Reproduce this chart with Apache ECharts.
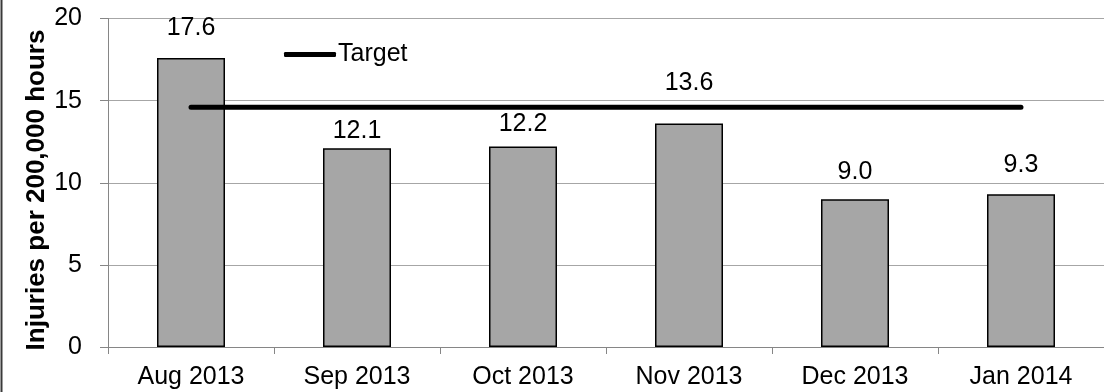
<!DOCTYPE html>
<html>
<head>
<meta charset="utf-8">
<script src="https://cdn.jsdelivr.net/npm/echarts@6/dist/echarts.min.js"></script>
<style>
  html, body { margin: 0; padding: 0; background: #fff; }
  #chart { width: 1104px; height: 392px; }
</style>
</head>
<body>
<div id="chart"></div>
<script>
// Monthly injury rate, with the target rate drawn as a line
const months = ['Aug 2013', 'Sep 2013', 'Oct 2013', 'Nov 2013', 'Dec 2013', 'Jan 2014'];
const injuryRate = [17.6, 12.1, 12.2, 13.6, 9.0, 9.3];
const targetRate = [14.6, 14.6, 14.6, 14.6, 14.6, 14.6];
// extra upward shift of each value label, in px
const labelLift = [12, 0, 5, 23, 10, 12];
const yTicks = { min: 0, max: 20, step: 5 };

const FONT = '"Liberation Sans", Arial, sans-serif';
const chart = echarts.init(document.getElementById('chart'), null, { renderer: 'canvas' });

chart.setOption({
  animation: false,
  backgroundColor: '#fff',
  textStyle: { fontFamily: FONT },
  grid: { left: 108, top: 18.5, width: 1008, height: 328.5, containLabel: false },
  legend: {
    data: [{ name: 'Target', icon: 'roundRect' }],
    left: 279, top: 37,
    itemWidth: 52, itemHeight: 5,
    itemStyle: { color: '#000', borderWidth: 0 },
    lineStyle: { width: 0 },
    textStyle: { fontSize: 25, color: '#000', fontFamily: FONT, padding: [0, 0, 0, -3] }
  },
  xAxis: {
    type: 'category',
    data: months,
    boundaryGap: true,
    axisLine: { lineStyle: { color: '#868686', width: 1 } },
    axisTick: { show: true, length: 7, lineStyle: { color: '#868686' } },
    axisLabel: { fontSize: 25, color: '#000', margin: 18, fontFamily: FONT },
    splitLine: { show: false }
  },
  yAxis: {
    type: 'value',
    min: yTicks.min, max: yTicks.max, interval: yTicks.step,
    axisLine: { show: true, lineStyle: { color: '#868686', width: 1 } },
    axisTick: { show: true, length: 8, lineStyle: { color: '#868686' } },
    axisLabel: { fontSize: 25, color: '#000', margin: 26, fontFamily: FONT },
    splitLine: { show: true, lineStyle: { color: '#a6a6a6', width: 1 } }
  },
  series: [
    {
      name: 'Injuries',
      type: 'bar',
      data: injuryRate.map((v, i) => ({
        value: v,
        label: { offset: [0, -labelLift[i]] }
      })),
      barWidth: 68,
      itemStyle: { color: '#a6a6a6', borderColor: '#000', borderWidth: 1.5 },
      label: {
        show: true, position: 'top', distance: 5,
        fontSize: 25, color: '#000', fontFamily: FONT,
        formatter: p => p.value.toFixed(1)
      },
      z: 2
    },
    {
      name: 'Target',
      type: 'line',
      data: targetRate,
      symbol: 'none',
      lineStyle: { color: '#000', width: 5, cap: 'round' },
      itemStyle: { color: '#000' },
      z: 3
    }
  ],
  graphic: [
    // outer frame edge on the left
    { type: 'line', shape: { x1: 1.5, y1: 0, x2: 1.5, y2: 392 }, style: { stroke: '#3a3a3a', lineWidth: 2 } },
    // y axis title
    {
      type: 'text', x: 37, y: 190, rotation: Math.PI / 2,
      style: {
        text: 'Injuries per 200,000 hours',
        font: 'bold 26px ' + FONT, fill: '#000',
        align: 'center', verticalAlign: 'middle'
      }
    }
  ]
});
</script>
</body>
</html>
